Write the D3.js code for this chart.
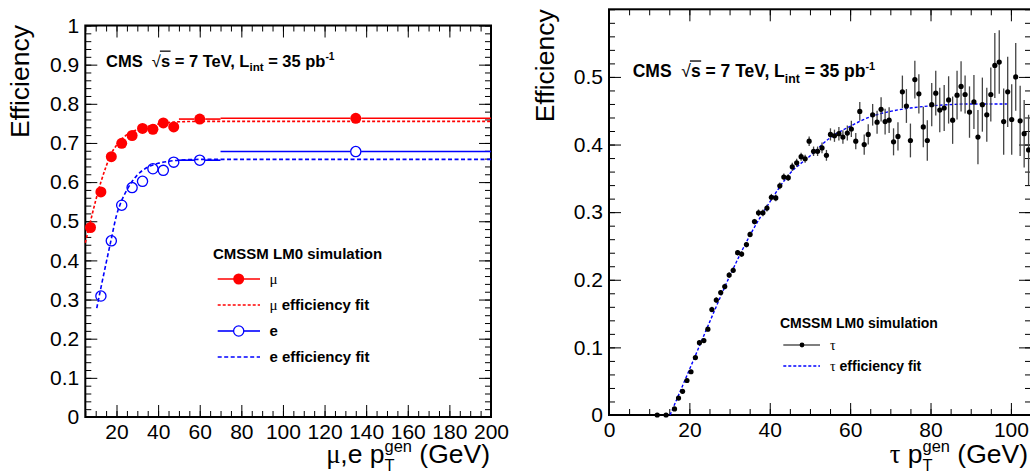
<!DOCTYPE html>
<html>
<head>
<meta charset="utf-8">
<script src="https://cdn.jsdelivr.net/npm/d3@7"></script>
<style>
body { margin: 0; background: #fff; }
svg { display: block; }
text { font-family: "Liberation Sans", Arial, sans-serif; fill: #000; }
</style>
</head>
<body>
<div id="chart"></div>
<script>
// ---- left panel: mu and e efficiencies (bins in GeV) ----
var muX   = [7.5, 12.5, 17.5, 22.5, 27.5, 32.5, 37.5, 42.5, 47.5, 60, 135];
var muXlo = [5, 10, 15, 20, 25, 30, 35, 40, 45, 50, 70];
var muXhi = [10, 15, 20, 25, 30, 35, 40, 45, 50, 70, 200];
var muY   = [0.484, 0.575, 0.665, 0.699, 0.719, 0.737, 0.735, 0.751, 0.741, 0.761, 0.763];

var eX   = [12.5, 17.5, 22.5, 27.5, 32.5, 37.5, 42.5, 47.5, 60, 135];
var eXlo = [10, 15, 20, 25, 30, 35, 40, 45, 50, 70];
var eXhi = [15, 20, 25, 30, 35, 40, 45, 50, 70, 200];
var eY   = [0.309, 0.450, 0.541, 0.586, 0.602, 0.634, 0.630, 0.651, 0.656, 0.678];

// fit curves
var muFitX = [5, 7.5, 10, 12.5, 15, 17.5, 20, 25, 30, 35, 40, 45, 50, 60, 200];
var muFitY = [0.445, 0.500, 0.553, 0.600, 0.640, 0.673, 0.694, 0.721, 0.734, 0.742, 0.748, 0.752, 0.754, 0.755, 0.755];
var eFitX = [10.5, 12.5, 15, 17.5, 20, 22.5, 25, 30, 35, 40, 45, 50, 60, 200];
var eFitY = [0.278, 0.330, 0.393, 0.455, 0.515, 0.553, 0.580, 0.618, 0.638, 0.648, 0.653, 0.656, 0.658, 0.658];

// ---- right panel: tau efficiency ----
var tauX = [12.0, 14.2, 16.3, 17.3, 18.3, 19.4, 20.4, 21.5, 22.5, 23.6,
            24.6, 25.6, 26.7, 27.8, 28.8, 29.9, 30.9, 32.0, 33.0, 34.2,
            35.1, 36.2, 37.2, 38.3, 39.3, 40.4, 41.5, 42.5, 43.5, 44.6,
            45.6, 46.7, 47.8, 48.8, 49.8, 50.9, 51.9, 53.0, 54.1, 55.1,
            56.1, 57.2, 58.2, 59.3, 60.3, 61.4, 62.4, 63.5, 64.5, 65.6,
            66.7, 67.7, 68.7, 69.7, 70.8, 71.9, 73.0, 74.0, 75.0, 76.1,
            77.1, 78.2, 79.2, 80.3, 81.3, 82.3, 83.4, 84.5, 85.5, 86.6,
            87.6, 88.6, 89.7, 90.8, 91.8, 92.9, 94.0, 95.0, 96.0, 97.1,
            98.2, 99.2, 100.2, 101.2, 102.3, 103.3, 104.4];
var tauY = [0, 0, 0.009, 0.025, 0.035, 0.051, 0.064, 0.085, 0.107, 0.110,
            0.127, 0.156, 0.170, 0.181, 0.190, 0.207, 0.214, 0.240, 0.238, 0.252,
            0.267, 0.286, 0.299, 0.299, 0.306, 0.322, 0.321, 0.339, 0.352, 0.351,
            0.367, 0.373, 0.382, 0.379, 0.405, 0.390, 0.390, 0.395, 0.384, 0.415,
            0.413, 0.416, 0.411, 0.417, 0.423, 0.405, 0.449, 0.400, 0.415, 0.444,
            0.433, 0.452, 0.434, 0.436, 0.404, 0.412, 0.478, 0.457, 0.406, 0.496,
            0.475, 0.426, 0.406, 0.459, 0.476, 0.451, 0.454, 0.466, 0.436, 0.473,
            0.486, 0.474, 0.448, 0.463, 0.411, 0.459, 0.444, 0.474, 0.517, 0.522,
            0.434, 0.478, 0.437, 0.500, 0.435, 0.416, 0.392];
var tauErr = [0, 0, 0.002, 0.003, 0.003, 0.003, 0.003, 0.003, 0.003, 0.003,
              0.003, 0.004, 0.004, 0.004, 0.004, 0.004, 0.004, 0.004, 0.004, 0.004,
              0.004, 0.004, 0.005, 0.005, 0.005, 0.005, 0.005, 0.005, 0.005, 0.005,
              0.006, 0.006, 0.006, 0.006, 0.007, 0.007, 0.007, 0.008, 0.008, 0.009,
              0.009, 0.010, 0.010, 0.011, 0.012, 0.012, 0.014, 0.015, 0.015, 0.016,
              0.017, 0.018, 0.019, 0.019, 0.020, 0.021, 0.024, 0.025, 0.025, 0.028,
              0.029, 0.030, 0.030, 0.032, 0.033, 0.033, 0.034, 0.035, 0.035, 0.036,
              0.037, 0.028, 0.038, 0.040, 0.040, 0.040, 0.040, 0.040, 0.048, 0.047,
              0.049, 0.052, 0.052, 0.050, 0.052, 0.050, 0.052];
var tauFitX = [15.2, 20, 25, 30, 35, 40, 45, 50, 55, 60, 65, 70, 75, 82, 90, 99];
var tauFitY = [0, 0.067, 0.137, 0.205, 0.265, 0.315, 0.357, 0.383, 0.410, 0.427, 0.441, 0.449, 0.454, 0.458, 0.460, 0.460];

// tick labels
var leftXTicks  = [20, 40, 60, 80, 100, 120, 140, 160, 180, 200];
var leftYTicks  = [0, 0.1, 0.2, 0.3, 0.4, 0.5, 0.6, 0.7, 0.8, 0.9, 1];
var rightXTicks = [0, 20, 40, 60, 80, 100];
var rightYTicks = [0, 0.1, 0.2, 0.3, 0.4, 0.5];

var svg = d3.select("#chart").append("svg")
    .attr("width", 1030)
    .attr("height", 473);

var xL = d3.scaleLinear().domain([5, 200]).range([85.3, 491]);
var yL = d3.scaleLinear().domain([0, 1]).range([417, 25.5]);
var xR = d3.scaleLinear().domain([0, 105]).range([609, 1031]);
var yR = d3.scaleLinear().domain([0, 0.6]).range([415, 9.3]);

var RED = "#ff0000", BLUE = "#0000ff";

// frame with ROOT-like inward ticks on all four sides
function drawAxes(x, y, xTicks, yTicks, xStep, yStep) {
  var x0 = x.range()[0], x1 = x.range()[1], y0 = y.range()[0], y1 = y.range()[1];
  var xMinor = d3.range(Math.ceil(x.domain()[0] / xStep) * xStep, x.domain()[1] + 1e-9, xStep);
  var yMinor = d3.range(0, y.domain()[1] + 1e-9, yStep);
  var none = function () { return ""; };
  var g = svg.append("g");
  function add(axis, tx, ty) {
    var a = g.append("g").attr("transform", "translate(" + tx + "," + ty + ")").call(axis);
    a.select(".domain").remove();
    a.attr("font-family", null).attr("font-size", 21);
    a.selectAll("line").attr("stroke", "#000");
    return a;
  }
  add(d3.axisBottom(x).tickValues(xMinor).tickSize(-6).tickFormat(none), 0, y0);
  add(d3.axisBottom(x).tickValues(xTicks).tickSize(-12).tickPadding(7.5).tickFormat(d3.format("d")), 0, y0);
  add(d3.axisTop(x).tickValues(xMinor).tickSize(-6).tickFormat(none), 0, y1);
  add(d3.axisTop(x).tickValues(xTicks).tickSize(-12).tickFormat(none), 0, y1);
  add(d3.axisLeft(y).tickValues(yMinor).tickSize(-6).tickFormat(none), x0, 0);
  add(d3.axisLeft(y).tickValues(yTicks).tickSize(-12).tickPadding(6).tickFormat(function (d) { return String(+d.toFixed(2)); }), x0, 0);
  add(d3.axisRight(y).tickValues(yMinor).tickSize(-6).tickFormat(none), x1, 0);
  add(d3.axisRight(y).tickValues(yTicks).tickSize(-12).tickFormat(none), x1, 0);
  g.append("rect")
    .attr("x", x0).attr("y", y1)
    .attr("width", x1 - x0).attr("height", y0 - y1)
    .attr("fill", "none").attr("stroke", "#000").attr("stroke-width", 2);
}

// text built from pieces (sub/superscripts, greek letters, overline)
function richText(x, y, size, parts, anchor) {
  var g = svg.append("g");
  var cur = 0, lastStart = 0, items = [];
  parts.forEach(function (p) {
    var fs = size * (p.sz || 1);
    var t = g.append("text")
      .attr("xml:space", "preserve").style("white-space", "pre")
      .attr("font-size", fs)
      .attr("font-weight", p.b ? "bold" : "normal")
      .text(p.t);
    if (p.serif) t.style("font-family", '"Liberation Serif","DejaVu Serif",serif');
    var w = t.node().getComputedTextLength();
    var start = p.stack ? lastStart : cur;
    items.push({ t: t, start: start, w: w, p: p });
    lastStart = start;
    cur = Math.max(cur, start + w);
  });
  var off = anchor === "end" ? x - cur : x;
  items.forEach(function (it) {
    it.t.attr("x", off + it.start).attr("y", y + (it.p.dy || 0) * size);
    if (it.p.over) {
      g.append("line")
        .attr("x1", off + it.start - 1).attr("x2", off + it.start + it.w + 0.5)
        .attr("y1", y - size * 0.93).attr("y2", y - size * 0.93)
        .attr("stroke", "#000").attr("stroke-width", size * 0.075);
    }
  });
}

function cmsLabel(x, y, size) {
  richText(x, y, size, [
    { t: "CMS  ", b: 1 },
    { t: "\u221A" },
    { t: "s", b: 1, over: 1 },
    { t: " = 7 TeV, L", b: 1 },
    { t: "int", b: 1, sz: 0.7, dy: 0.3 },
    { t: " = 35 pb", b: 1 },
    { t: "-1", b: 1, sz: 0.62, dy: -0.42 }
  ]);
}

var fitLine = function (x, y) {
  return d3.line()
    .x(function (d) { return x(d[0]); })
    .y(function (d) { return y(d[1]); })
    .curve(d3.curveMonotoneX);
};

// ================= LEFT PANEL =================
drawAxes(xL, yL, leftXTicks, leftYTicks, 5, 0.02);

svg.append("path")
  .datum(d3.zip(muFitX, muFitY))
  .attr("d", fitLine(xL, yL))
  .attr("fill", "none").attr("stroke", RED).attr("stroke-width", 1.6).attr("stroke-dasharray", "3,2");
svg.append("path")
  .datum(d3.zip(eFitX, eFitY))
  .attr("d", fitLine(xL, yL))
  .attr("fill", "none").attr("stroke", BLUE).attr("stroke-width", 1.6).attr("stroke-dasharray", "4,2.5");

// horizontal error bars, not drawn through the marker
function xErrBars(xs, los, his, ys, r, color) {
  var segs = [];
  xs.forEach(function (v, i) {
    var cx = xL(v), a = xL(los[i]), b = xL(his[i]);
    if (cx - r > a) segs.push([a, cx - r, ys[i]]);
    if (b > cx + r) segs.push([cx + r, b, ys[i]]);
  });
  svg.append("g").selectAll("line").data(segs).enter().append("line")
    .attr("x1", function (d) { return d[0]; })
    .attr("x2", function (d) { return d[1]; })
    .attr("y1", function (d) { return yL(d[2]); })
    .attr("y2", function (d) { return yL(d[2]); })
    .attr("stroke", color).attr("stroke-width", 1.6);
}
xErrBars(muX, muXlo, muXhi, muY, 5.5, RED);
xErrBars(eX, eXlo, eXhi, eY, 5.3, BLUE);

svg.append("g").selectAll("circle").data(d3.zip(muX, muY)).enter().append("circle")
  .attr("cx", function (d) { return xL(d[0]); })
  .attr("cy", function (d) { return yL(d[1]); })
  .attr("r", 5.5).attr("fill", RED);
svg.append("g").selectAll("circle").data(d3.zip(eX, eY)).enter().append("circle")
  .attr("cx", function (d) { return xL(d[0]); })
  .attr("cy", function (d) { return yL(d[1]); })
  .attr("r", 5.1).attr("fill", "none").attr("stroke", BLUE).attr("stroke-width", 1.3);

cmsLabel(106, 66.5, 16.5);

// legend
richText(213, 258.5, 15, [{ t: "CMSSM LM0 simulation", b: 1 }]);
var lg = svg.append("g");
lg.append("line").attr("x1", 217.7).attr("x2", 260).attr("y1", 279).attr("y2", 279).attr("stroke", RED).attr("stroke-width", 1.6);
lg.append("circle").attr("cx", 238.7).attr("cy", 279).attr("r", 5.5).attr("fill", RED);
lg.append("line").attr("x1", 217.7).attr("x2", 260).attr("y1", 305).attr("y2", 305).attr("stroke", RED).attr("stroke-width", 1.6).attr("stroke-dasharray", "3,2");
lg.append("line").attr("x1", 217.7).attr("x2", 233.6).attr("y1", 331).attr("y2", 331).attr("stroke", BLUE).attr("stroke-width", 1.6);
lg.append("line").attr("x1", 243.8).attr("x2", 260).attr("y1", 331).attr("y2", 331).attr("stroke", BLUE).attr("stroke-width", 1.6);
lg.append("circle").attr("cx", 238.7).attr("cy", 331).attr("r", 5.1).attr("fill", "none").attr("stroke", BLUE).attr("stroke-width", 1.3);
lg.append("line").attr("x1", 217.7).attr("x2", 260).attr("y1", 357).attr("y2", 357).attr("stroke", BLUE).attr("stroke-width", 1.6).attr("stroke-dasharray", "4,2.5");
richText(269.5, 284, 15, [{ t: "\u03BC", serif: 1 }]);
richText(269.5, 310, 15, [{ t: "\u03BC", serif: 1 }, { t: " efficiency fit", b: 1 }]);
richText(269.5, 336, 15, [{ t: "e", b: 1 }]);
richText(269.5, 362, 15, [{ t: "e efficiency fit", b: 1 }]);

// axis titles
svg.append("text")
  .attr("transform", "translate(28.5,25) rotate(-90)")
  .attr("text-anchor", "end").attr("font-size", 26.5)
  .text("Efficiency");
richText(490, 463, 26.5, [
  { t: "\u03BC", serif: 1 }, { t: ",e p" },
  { t: "gen", sz: 0.62, dy: -0.4 }, { t: "T", sz: 0.62, dy: 0.3, stack: 1 },
  { t: " (GeV)" }
], "end");

// ================= RIGHT PANEL =================
drawAxes(xR, yR, rightXTicks, rightYTicks, 5, 0.02);

svg.append("path")
  .datum(d3.zip(tauFitX, tauFitY))
  .attr("d", fitLine(xR, yR))
  .attr("fill", "none").attr("stroke", BLUE).attr("stroke-width", 1.4).attr("stroke-dasharray", "3,2");

var tau = d3.zip(tauX, tauY, tauErr);
svg.append("g").selectAll("line").data(tau).enter().append("line")
  .attr("x1", function (d) { return xR(d[0]); })
  .attr("x2", function (d) { return xR(d[0]); })
  .attr("y1", function (d) { return yR(d[1] - d[2]); })
  .attr("y2", function (d) { return yR(d[1] + d[2]); })
  .attr("stroke", "#444").attr("stroke-width", 1.3);
svg.append("g").selectAll("circle").data(tau).enter().append("circle")
  .attr("cx", function (d) { return xR(d[0]); })
  .attr("cy", function (d) { return yR(d[1]); })
  .attr("r", 2.6).attr("fill", "#000");

cmsLabel(632.7, 77.3, 17.5);

richText(780, 327.5, 14, [{ t: "CMSSM LM0 simulation", b: 1 }]);
var lg2 = svg.append("g");
lg2.append("line").attr("x1", 783.3).attr("x2", 820).attr("y1", 345).attr("y2", 345).attr("stroke", "#000").attr("stroke-width", 1.2);
lg2.append("circle").attr("cx", 802).attr("cy", 345).attr("r", 2.4).attr("fill", "#000");
lg2.append("line").attr("x1", 783.3).attr("x2", 820).attr("y1", 366).attr("y2", 366).attr("stroke", BLUE).attr("stroke-width", 1.4).attr("stroke-dasharray", "3,2");
richText(830, 350, 14, [{ t: "\u03C4", serif: 1 }]);
richText(830, 371, 14, [{ t: "\u03C4", serif: 1 }, { t: " efficiency fit", b: 1 }]);

svg.append("text")
  .attr("transform", "translate(553.5,9.3) rotate(-90)")
  .attr("text-anchor", "end").attr("font-size", 26.5)
  .text("Efficiency");
richText(1028, 463, 26.5, [
  { t: "\u03C4", serif: 1 }, { t: " p" },
  { t: "gen", sz: 0.62, dy: -0.4 }, { t: "T", sz: 0.62, dy: 0.3, stack: 1 },
  { t: " (GeV)" }
], "end");
</script>
</body>
</html>
